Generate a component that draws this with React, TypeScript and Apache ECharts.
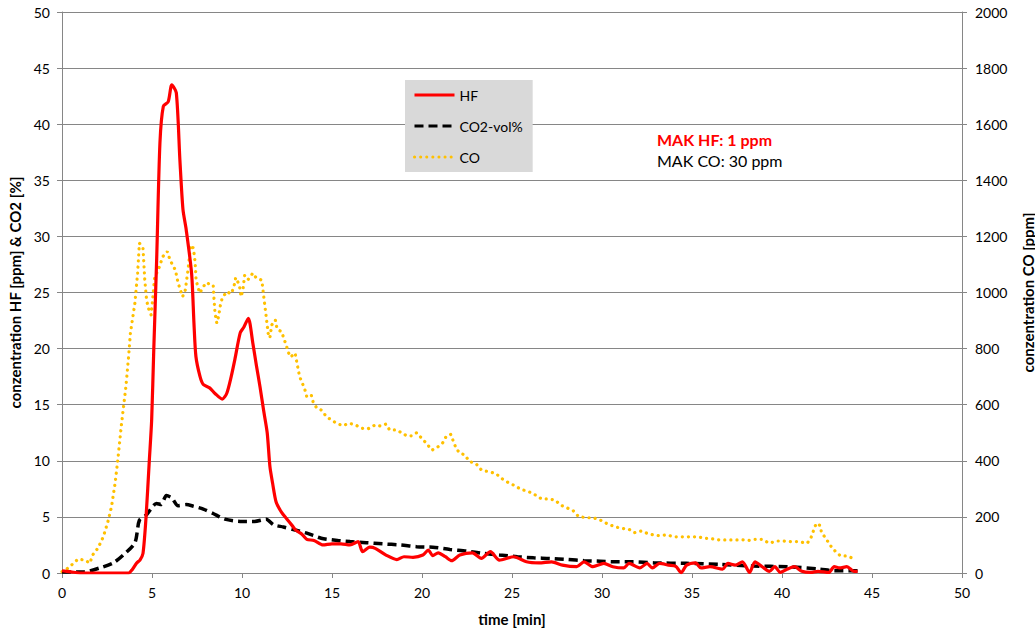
import React, { useEffect, useRef } from "react";
import * as echarts from "echarts";

// time [min], HF [ppm]
const hfData: [number, number][] = [
  [0, 0.2], [0.5, 0.1], [1, 0], [2, 0], [3, 0], [3.7, 0], [3.9, 0.3], [4.15, 0.9], [4.33, 1.15], [4.5, 1.75],
  [4.67, 5], [4.85, 10], [4.98, 13.6], [5.1, 20], [5.26, 28], [5.44, 38.3], [5.63, 41.6], [5.9, 42], [6.1, 43.5],
  [6.35, 42.8], [6.55, 36.8], [6.72, 32.4], [6.9, 30.6], [7.2, 26.7], [7.33, 22.3], [7.44, 19.3], [7.67, 17.5],
  [7.85, 16.8], [8.2, 16.5], [8.5, 16], [8.9, 15.5], [9.15, 16], [9.4, 17.5], [9.6, 19], [9.9, 21.4], [10.1, 21.9],
  [10.35, 22.7], [10.6, 20.5], [10.8, 18.5], [11.0, 16.6], [11.2, 14.5], [11.4, 12.5], [11.55, 9.5], [11.7, 8],
  [11.9, 6.3], [12.2, 5.4], [12.5, 4.8], [12.8, 4.2], [13.0, 3.8], [13.3, 3.5], [13.6, 3.0], [14.0, 2.9],
  [14.5, 2.5], [15.0, 2.6], [15.5, 2.6], [16.0, 2.5], [16.45, 2.8], [16.7, 1.9], [17.1, 2.3], [17.4, 2.2],
  [18.0, 1.6], [18.6, 1.2], [19.0, 1.45], [19.5, 1.4], [20.05, 1.6], [20.35, 2.05], [20.6, 1.55], [20.9, 1.8],
  [21.3, 1.45], [21.65, 1.1], [22.1, 1.6], [22.8, 1.8], [23.3, 1.3], [23.8, 1.9], [24.3, 1.15], [25.1, 1.45],
  [25.8, 1.0], [26.5, 0.9], [27.2, 1.0], [27.8, 0.7], [28.6, 0.56], [29.0, 1.0], [29.5, 0.56], [30.1, 0.85],
  [30.6, 0.56], [31.2, 0.45], [31.5, 0.85], [32.1, 0.45], [32.5, 0.85], [32.8, 0.45], [33.2, 0.85], [33.7, 0.7],
  [34.1, 0.6], [34.4, 0.03], [34.7, 0.7], [35.2, 0.9], [35.5, 0.45], [36.0, 0.56], [36.7, 0.35], [37.0, 0.85],
  [37.4, 0.7], [37.8, 1.0], [38.2, 0.05], [38.5, 1.0], [38.9, 0.56], [39.3, 0.15], [39.6, 0.56], [39.9, 0.05],
  [40.3, 0.35], [40.7, 0.56], [41.1, 0.15], [41.6, 0.05], [42.0, 0.15], [42.6, 0.05], [42.9, 0.56], [43.2, 0.45],
  [43.6, 0.56], [44.0, 0.15], [44.2, 0.15],
];

// time [min], CO2 [vol%]
const co2Data: [number, number][] = [
  [0, 0.1], [1.2, 0.1], [2.1, 0.45], [2.85, 0.9], [3.4, 1.6], [4.05, 2.7], [4.3, 4.7], [4.7, 5.2], [5.25, 6.2],
  [5.5, 6.1], [5.8, 6.9], [6.1, 6.7], [6.45, 6.0], [6.9, 6.1], [7.3, 5.95], [7.85, 5.7], [8.4, 5.3], [9.05, 4.8],
  [9.9, 4.6], [10.7, 4.6], [11.35, 4.8], [11.75, 4.3], [12.3, 4.1], [12.9, 3.85], [13.6, 3.55], [14.4, 3.1],
  [15.3, 2.9], [16, 2.8], [16.9, 2.7], [17.8, 2.6], [18.8, 2.5], [19.7, 2.35], [20.6, 2.3], [21.55, 2.1],
  [22.5, 1.95], [23.4, 1.75], [24.3, 1.6], [25.3, 1.45], [26.2, 1.35], [27.1, 1.3], [28.1, 1.2], [29, 1.1],
  [29.9, 1.05], [30.8, 1.0], [31.7, 1.0], [32.9, 0.9], [34.7, 0.86], [36.5, 0.77], [38.4, 0.62], [40.3, 0.56],
  [42.1, 0.35], [42.9, 0.2], [44.2, 0.2],
];

// time [min], CO [ppm]
const coData: [number, number][] = [
  [0, 5], [0.35, 18], [0.9, 50], [1.3, 45], [1.55, 35], [1.7, 64], [2.0, 89], [2.3, 130], [2.55, 183], [2.75, 236],
  [2.95, 320], [3.1, 403], [3.3, 528], [3.55, 664], [3.7, 771], [3.8, 855], [4.05, 962], [4.2, 1069], [4.3, 1176],
  [4.5, 1158], [4.6, 1044], [4.7, 973], [4.8, 944], [4.95, 920], [5.05, 985], [5.15, 1056], [5.35, 1080],
  [5.6, 1128], [5.85, 1146], [6.0, 1116], [6.3, 1080], [6.45, 1034], [6.7, 985], [6.85, 1009], [7.0, 1080],
  [7.15, 1169], [7.3, 1158], [7.4, 1105], [7.45, 1044], [7.55, 1020], [7.65, 998], [7.85, 1020], [8.0, 1035],
  [8.2, 1030], [8.4, 1027], [8.45, 972], [8.5, 927], [8.6, 891], [8.7, 915], [8.8, 955], [8.9, 980], [9.15, 1003],
  [9.4, 995], [9.55, 1020], [9.65, 1053], [9.85, 1027], [9.95, 985], [10.05, 1009], [10.15, 1062], [10.35, 1047],
  [10.6, 1069], [10.8, 1051], [11.1, 1044], [11.2, 990], [11.3, 937], [11.4, 884], [11.45, 855], [11.55, 838],
  [11.65, 884], [11.85, 902], [11.95, 870], [12.2, 860], [12.45, 813], [12.6, 783], [12.7, 770], [12.95, 784],
  [13.05, 750], [13.2, 700], [13.35, 677], [13.5, 652], [13.6, 628], [13.85, 634], [13.95, 610], [14.15, 588],
  [14.4, 581], [14.7, 557], [14.95, 546], [15.25, 534], [15.6, 525], [15.95, 534], [16.3, 528], [16.65, 516],
  [17.0, 514], [17.4, 528], [17.7, 524], [18.0, 531], [18.2, 510], [18.6, 510], [19.15, 489], [19.4, 489],
  [19.7, 500], [20.25, 462], [20.55, 438], [20.85, 448], [21.15, 464], [21.35, 488], [21.6, 494], [21.75, 468],
  [21.9, 444], [22.1, 427], [22.35, 422], [22.65, 397], [23.0, 390], [23.3, 367], [23.7, 361], [24.1, 355],
  [24.4, 338], [24.8, 322], [25.2, 310], [25.5, 298], [25.9, 291], [26.3, 278], [26.65, 264], [27.0, 264],
  [27.4, 260], [27.7, 242], [28.0, 234], [28.4, 222], [28.7, 201], [29.15, 197], [29.5, 197], [29.9, 189],
  [30.25, 177], [30.7, 165], [31.1, 159], [31.5, 156], [31.8, 144], [32.2, 150], [32.6, 139], [32.85, 136],
  [33.2, 133], [33.6, 136], [34.0, 129], [34.4, 129], [34.9, 129], [35.3, 129], [35.7, 124], [36.1, 122],
  [36.5, 118], [36.9, 118], [37.3, 118], [37.8, 118], [38.2, 116], [38.5, 120], [38.9, 120], [39.3, 106],
  [39.7, 114], [40.1, 114], [40.5, 112], [40.9, 112], [41.4, 106], [41.6, 124], [41.75, 151], [41.9, 177],
  [42.1, 170], [42.2, 144], [42.45, 122], [42.7, 97], [42.95, 78], [43.25, 61], [43.6, 61], [43.95, 52],
];

const seriesNames = ["HF", "CO2-vol%", "CO"];
const xAxisName = "time [min]";
const leftAxisName = "conzentration HF [ppm] & CO2 [%]";
const rightAxisName = "conzentration CO [ppm]";
const noteHF = "MAK HF: 1 ppm";
const noteCO = "MAK CO: 30 ppm";

const FONT = "Lato, 'Open Sans', sans-serif";
const AXIS_GRAY = "#868686";

export default function App() {
  const ref = useRef<HTMLDivElement>(null);
  useEffect(() => {
    if (!ref.current) return;
    const chart = echarts.init(ref.current, undefined, { renderer: "svg" });
    chart.setOption({
      animation: false,
      backgroundColor: "#ffffff",
      textStyle: { fontFamily: FONT },
      grid: { left: 62, right: 73, top: 12, bottom: 56, containLabel: false, outerBoundsMode: "none" },
      legend: {
        data: seriesNames,
        orient: "vertical",
        left: 405,
        top: 80,
        backgroundColor: "#d9d9d9",
        padding: [8, 10, 8, 8],
        itemWidth: 40,
        itemHeight: 14,
        itemGap: 17,
        itemStyle: { opacity: 0, borderWidth: 0 },
        lineStyle: { width: 3 },
        textStyle: { fontFamily: FONT, fontSize: 14, color: "#000" },
        selectedMode: false,
      },
      xAxis: {
        type: "value",
        min: 0,
        max: 50,
        interval: 5,
        name: xAxisName,
        nameLocation: "middle",
        nameGap: 38,
        nameTextStyle: { fontFamily: FONT, fontSize: 15, fontWeight: "bold", color: "#000" },
        axisLine: { lineStyle: { color: AXIS_GRAY, width: 1 } },
        axisTick: { show: true, inside: false, length: 5, lineStyle: { color: AXIS_GRAY } },
        axisLabel: { fontFamily: FONT, fontSize: 14, color: "#000", margin: 12 },
        splitLine: { show: false },
      },
      yAxis: [
        {
          type: "value",
          min: 0,
          max: 50,
          interval: 5,
          position: "left",
          name: leftAxisName,
          nameLocation: "middle",
          nameRotate: 90,
          nameGap: 39,
          nameTextStyle: { fontFamily: FONT, fontSize: 15, fontWeight: "bold", color: "#000" },
          axisLine: { show: true, lineStyle: { color: AXIS_GRAY, width: 1 } },
          axisTick: { show: true, inside: false, length: 5, lineStyle: { color: AXIS_GRAY } },
          axisLabel: { fontFamily: FONT, fontSize: 14, color: "#000", margin: 12 },
          splitLine: { show: true, lineStyle: { color: AXIS_GRAY, width: 1 } },
        },
        {
          type: "value",
          min: 0,
          max: 2000,
          interval: 200,
          position: "right",
          name: rightAxisName,
          nameLocation: "middle",
          nameRotate: 90,
          nameGap: 58,
          nameTextStyle: { fontFamily: FONT, fontSize: 15, fontWeight: "bold", color: "#000" },
          axisLine: { show: true, lineStyle: { color: AXIS_GRAY, width: 1 } },
          axisTick: { show: true, inside: false, length: 5, lineStyle: { color: AXIS_GRAY } },
          axisLabel: {
            fontFamily: FONT,
            fontSize: 14,
            color: "#000",
            margin: 13,
            formatter: (v: number) => String(v),
          },
          splitLine: { show: false },
        },
      ],
      series: [
        {
          name: seriesNames[2],
          type: "line",
          yAxisIndex: 1,
          data: coData,
          symbol: "none",
          z: 2,
          lineStyle: { color: "#FFC000", width: 3.2, type: [0.1, 6], cap: "round" },
          itemStyle: { color: "#FFC000" },
        },
        {
          name: seriesNames[0],
          type: "line",
          yAxisIndex: 0,
          data: hfData,
          symbol: "none",
          smooth: 0.25,
          z: 4,
          lineStyle: { color: "#FF0000", width: 3.2 },
          itemStyle: { color: "#FF0000" },
        },
        {
          name: seriesNames[1],
          type: "line",
          yAxisIndex: 0,
          data: co2Data,
          symbol: "none",
          smooth: 0.25,
          z: 3,
          lineStyle: { color: "#000000", width: 3.5, type: [9, 5] },
          itemStyle: { color: "#000000" },
        },
      ],
      graphic: [
        {
          type: "text",
          left: 657,
          top: 131,
          style: { text: noteHF, fill: "#FF0000", font: `bold 16px ${FONT}` },
        },
        {
          type: "text",
          left: 657,
          top: 152,
          style: { text: noteCO, fill: "#000000", font: `16px ${FONT}` },
        },
      ],
    });
    return () => chart.dispose();
  }, []);
  return (
    <div
      ref={ref}
      style={{ position: "absolute", left: 0, top: 0, width: 1035, height: 629 }}
    />
  );
}
